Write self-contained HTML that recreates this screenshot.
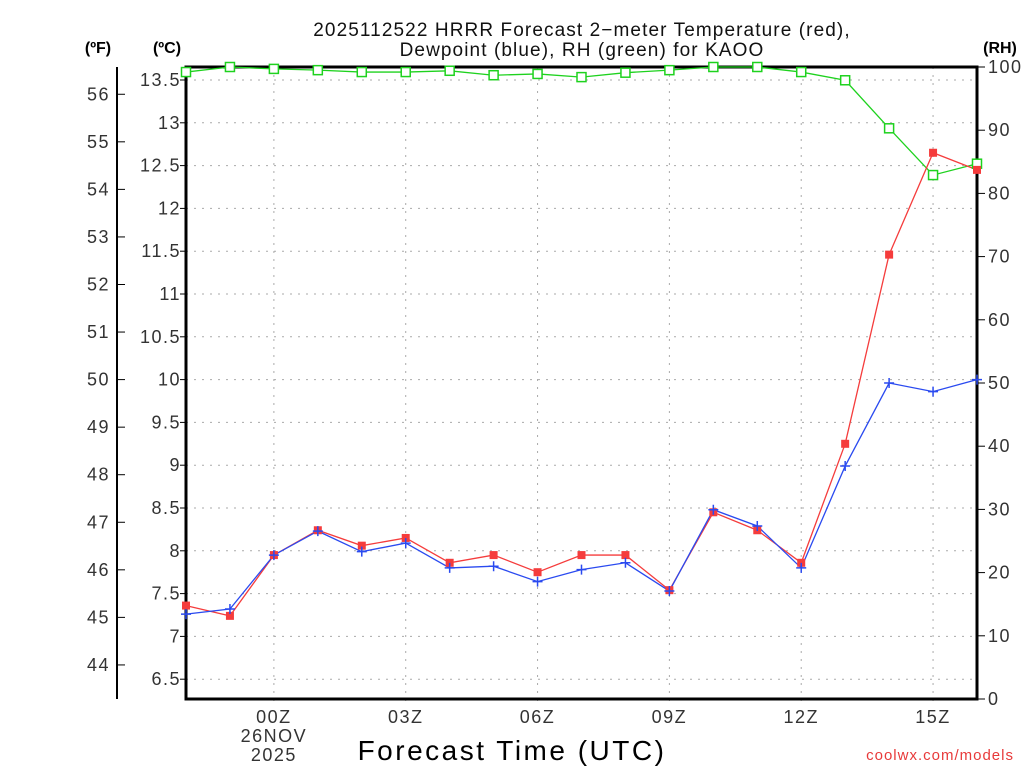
<!DOCTYPE html>
<html><head><meta charset="utf-8"><style>
html,body{margin:0;padding:0;background:#fff;}
svg{display:block;font-family:"Liberation Sans",sans-serif;}
</style></head><body>
<svg id="chart" width="1024" height="768" viewBox="0 0 1024 768">
<text x="582" y="36" font-size="19" text-anchor="middle" letter-spacing="1.1" fill="#111">2025112522 HRRR Forecast 2−meter Temperature (red),</text>
<text x="582" y="56" font-size="19" text-anchor="middle" letter-spacing="1.1" fill="#111">Dewpoint (blue), RH (green) for KAOO</text>
<text x="98" y="53" font-size="16" font-weight="bold" text-anchor="middle">(ºF)</text>
<text x="167" y="53" font-size="16" font-weight="bold" text-anchor="middle">(ºC)</text>
<text x="1000" y="53" font-size="16" font-weight="bold" text-anchor="middle">(RH)</text>
<text x="512" y="760" font-size="28" text-anchor="middle" letter-spacing="2.5">Forecast Time (UTC)</text>
<text x="1014" y="760" font-size="15" fill="#e83a3a" text-anchor="end" letter-spacing="1">coolwx.com/models</text>
<g id="grid"></g><g id="axes"></g><g id="series"></g>
</svg>
<script>
const hours=[-2,-1,0,1,2,3,4,5,6,7,8,9,10,11,12,13,14,15,16];
const tempC=[7.36,7.24,7.95,8.24,8.06,8.15,7.86,7.95,7.75,7.95,7.95,7.54,8.45,8.24,7.86,9.25,11.46,12.65,12.45];
const dewC=[7.26,7.32,7.95,8.23,7.99,8.09,7.80,7.82,7.64,7.78,7.86,7.53,8.48,8.29,7.80,8.99,9.96,9.86,10.0];
const rh=[99.2,100,99.7,99.5,99.2,99.2,99.4,98.7,98.9,98.4,99.1,99.5,100,100,99.2,97.9,90.3,82.9,84.7];
const cTicks=["6.5","7","7.5","8","8.5","9","9.5","10","10.5","11","11.5","12","12.5","13","13.5"];
const fTicks=["44","45","46","47","48","49","50","51","52","53","54","55","56"];
const rhTicks=["0","10","20","30","40","50","60","70","80","90","100"];
const xTicks=[0,3,6,9,12,15];
const xLabels=["00Z","03Z","06Z","09Z","12Z","15Z"];

const L=186,R=977,T=67,B=699;
const xS=h=>L+(h+2)*(R-L)/18;
const cS=c=>80+(13.5-c)*85.6;
const fS=f=>cS((f-32)/1.8);
const rS=r=>B-r*(B-T)/100;
const NS="http://www.w3.org/2000/svg";
function mk(p,tag,at,txt){const e=document.createElementNS(NS,tag);for(const k in at)e.setAttribute(k,at[k]);if(txt!=null)e.textContent=txt;p.appendChild(e);return e;}
const grid=document.getElementById('grid'),axes=document.getElementById('axes'),ser=document.getElementById('series');
const TS={'font-size':18,'letter-spacing':1.5,fill:'#333'};
function txt(p,at,t){return mk(p,'text',Object.assign({},TS,at),t);}

cTicks.forEach(t=>{const y=cS(+t);
 const g=mk(grid,'line',{x1:L,x2:R,y1:y,y2:y,stroke:'#aaa','stroke-dasharray':'2,6'});
 
 
 mk(axes,'line',{x1:L-6,x2:L,y1:y,y2:y,stroke:'#000'});
 const l=txt(axes,{x:L-5,y:y+6,'text-anchor':'end'},t);
 
 
});
xTicks.forEach((h,i)=>{const x=xS(h);
 const g=mk(grid,'line',{x1:x,x2:x,y1:T,y2:B+8,stroke:'#aaa','stroke-dasharray':'2,6'});
 
 
 const l=txt(axes,{x:x,y:B+24,'text-anchor':'middle'},xLabels[i]);
 
 
});
const d1=txt(axes,{x:xS(0),y:B+43,'text-anchor':'middle'},'26NOV');


const d2=txt(axes,{x:xS(0),y:B+62,'text-anchor':'middle'},'2025');


fTicks.forEach(t=>{const y=fS(+t);
 mk(axes,'line',{x1:117,x2:125,y1:y,y2:y,stroke:'#000'});
 const l=txt(axes,{x:110,y:y+6,'text-anchor':'end'},t);
 
 
});
rhTicks.forEach(t=>{const y=rS(+t);
 mk(axes,'line',{x1:R,x2:R+8,y1:y,y2:y,stroke:'#000'});
 const l=txt(axes,{x:988,y:y+6},t);
 
 
});
mk(axes,'line',{x1:117,x2:117,y1:T,y2:B,stroke:'#000','stroke-width':2});
mk(axes,'rect',{x:L,y:T,width:R-L,height:B-T,fill:'none',stroke:'#000','stroke-width':3});

function line(vals,sc,col,name){
 const pts=vals.map((v,i)=>xS(hours[i])+','+sc(v)).join(' ');
 const p=mk(ser,'polyline',{points:pts,fill:'none',stroke:col,'stroke-width':1.3});
 
 
}
line(rh,rS,'#1ed21e','rh-line');
line(tempC,cS,'#f53c3c','temperature-line');
line(dewC,cS,'#2a4af0','dewpoint-line');
rh.forEach((v,i)=>{const m=mk(ser,'rect',{x:xS(hours[i])-4.5,y:rS(v)-4.5,width:9,height:9,fill:'#fff',stroke:'#1ed21e','stroke-width':1.5});
 
 });
tempC.forEach((v,i)=>{const m=mk(ser,'rect',{x:xS(hours[i])-4,y:cS(v)-4,width:8,height:8,fill:'#f53c3c'});
 
 });
dewC.forEach((v,i)=>{const x=xS(hours[i]),y=cS(v);
 const m=mk(ser,'path',{d:`M${x-5},${y}H${x+5}M${x},${y-5}V${y+5}`,stroke:'#2a4af0','stroke-width':1.5});
 
 });
</script>
</body></html>
